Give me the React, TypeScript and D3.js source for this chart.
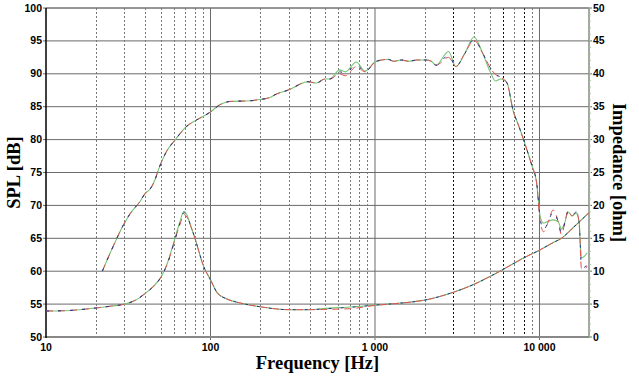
import React from "react";
import * as d3 from "d3";

const W = 639;
const H = 381;
const M = { left: 46, right: 589, top: 8, bottom: 337 };

// SPL data (dB)
const splFreqs = [22, 25, 29.5, 33, 37.3, 40, 43, 46, 48.2, 54, 60.7, 71.5, 82.5, 100, 114, 131, 174, 200, 230, 246, 302, 364, 390, 440, 496, 530, 610, 660, 770, 870, 1000, 1100, 1200, 1300, 1450, 1600, 1800, 2050, 2200, 2350, 2800, 3100, 3500, 4000, 4500, 5000, 5400, 5800, 6350, 6900, 7500, 8000, 9000, 9600, 10100, 10600, 11300, 12100, 13000, 13600, 14300, 14900, 15800, 16700, 17400, 18000, 18800, 19500];
const splBlue = [60, 63.2, 67, 69, 70.6, 71.8, 72.5, 73.9, 75.4, 78.2, 79.9, 82, 83, 84.2, 85.3, 85.8, 85.9, 86.1, 86.4, 86.8, 87.6, 88.6, 88.8, 88.6, 89.2, 89.2, 90.3, 90.1, 91.4, 90.3, 91.8, 92.1, 92.2, 91.9, 92.1, 91.9, 92.1, 92.1, 91.9, 91.3, 92.8, 91.1, 93.0, 95.2, 93.2, 91.0, 89.9, 89.5, 88.6, 84.5, 82, 80, 76, 73.5, 68, 66.3, 67.5, 69.0, 67.5, 65.8, 67.5, 69.0, 68.4, 69.0, 67.5, 60.8, 60.6, 61.2];
const splRed = [60, 63.2, 67, 69, 70.6, 71.8, 72.5, 73.9, 75.4, 78.2, 79.9, 82, 83, 84.2, 85.3, 85.8, 85.9, 86.1, 86.4, 86.8, 87.6, 88.6, 88.8, 88.6, 89.2, 89.2, 90.0, 89.7, 91.1, 90.3, 91.8, 92.1, 92.2, 91.9, 92.1, 91.9, 92.1, 92.1, 91.9, 91.3, 92.5, 91.1, 93.0, 95.1, 93.2, 91.0, 89.9, 89.5, 88.6, 84.5, 82, 80, 76, 73.5, 67.5, 66.0, 67.5, 69.3, 67.5, 65.6, 67.5, 69.2, 68.4, 69.1, 67.5, 60.4, 60.3, 60.8];
const splGreen = [60, 63.2, 67, 69, 70.6, 71.8, 72.5, 73.9, 75.4, 78.2, 79.9, 82, 83, 84.2, 85.3, 85.8, 85.9, 86.1, 86.4, 86.8, 87.6, 88.6, 88.8, 88.6, 89.2, 89.2, 90.6, 90.3, 91.8, 90.4, 91.8, 92.1, 92.2, 91.9, 92.1, 91.9, 92.1, 92.1, 91.9, 91.3, 93.4, 91.1, 93.0, 95.6, 93.2, 90.4, 88.9, 89.2, 88.6, 84.5, 82, 80, 76, 73.5, 68.3, 67.3, 67.6, 67.8, 67.5, 66.4, 67.5, 69.0, 68.4, 68.8, 67.5, 62, 62.3, 62.8];

// Impedance data (ohm)
const impFreqs = [10, 13, 16, 20, 25, 30, 35, 40, 45, 50, 55, 60, 65, 69, 72, 76, 80, 85, 90, 100, 110, 125, 150, 200, 300, 400, 500, 700, 1000, 1500, 2000, 3000, 4000, 5000, 5750, 7000, 8000, 10000, 12000, 13600, 16000, 20000];
const impBlue = [3.95, 4.0, 4.15, 4.4, 4.7, 5.0, 5.6, 6.6, 7.7, 9.1, 11.3, 14.3, 17.2, 18.9, 18.4, 16.8, 15.2, 13.0, 11.0, 8.7, 6.7, 5.8, 5.2, 4.6, 4.15, 4.15, 4.3, 4.5, 4.85, 5.2, 5.6, 6.8, 8.0, 9.2, 10.0, 11.2, 12.0, 13.2, 14.3, 15.0, 16.6, 18.9];
const impRed = [3.95, 4.0, 4.15, 4.4, 4.7, 5.0, 5.6, 6.6, 7.7, 9.1, 11.3, 14.3, 17.0, 18.6, 18.2, 16.8, 15.2, 13.0, 11.0, 8.7, 6.7, 5.8, 5.2, 4.6, 4.15, 4.15, 4.2, 4.3, 4.8, 5.2, 5.6, 6.8, 8.0, 9.2, 10.0, 11.2, 12.0, 13.2, 14.3, 15.0, 16.6, 18.9];
const impGreen = [3.95, 4.0, 4.15, 4.4, 4.7, 5.0, 5.6, 6.6, 7.7, 9.1, 11.4, 14.5, 17.4, 19.1, 18.5, 16.8, 15.2, 13.0, 11.0, 8.7, 6.7, 5.8, 5.2, 4.6, 4.15, 4.15, 4.35, 4.55, 4.85, 5.2, 5.6, 6.8, 8.0, 9.2, 10.0, 11.2, 12.0, 13.2, 14.3, 15.0, 16.6, 18.9];

// Axes
const splTicks = [50, 55, 60, 65, 70, 75, 80, 85, 90, 95, 100];
const impTicks = [0, 5, 10, 15, 20, 25, 30, 35, 40, 45, 50];
const impMinor = d3.range(0, 51, 1);
const xTickValues = [10, 100, 1000, 10000];
const xTickLabels = ["10", "100", "1 000", "10 000"];
const xMinor = [20, 30, 40, 50, 60, 70, 80, 90, 200, 300, 400, 500, 600, 700, 800, 900, 2000, 3000, 4000, 5000, 6000, 7000, 8000, 9000];
const xMinorDark = [3000, 6000, 8000];

// drawing order: green (bottom), red, blue (speckled on top)
const seriesStyles = [
  { color: "#74c474", width: 1.1, dash: "none" },
  { color: "#e05050", width: 1.0, dash: "7,5" },
  { color: "#22308f", width: 1.0, dash: "3,9" },
];

export default function App() {
  const x = d3.scaleLog().domain([10, 20000]).range([M.left, M.right]);
  const yL = d3.scaleLinear().domain([50, 100]).range([M.bottom, M.top]);
  const yR = d3.scaleLinear().domain([0, 50]).range([M.bottom, M.top]);

  const mkLine = (fs: number[], vs: number[], y: any) =>
    d3
      .line<number>()
      .x((_, i) => x(fs[i]))
      .y((v) => y(v))
      .curve(d3.curveMonotoneX)(vs) as string;

  const splSeries = [splGreen, splRed, splBlue];
  const impSeries = [impGreen, impRed, impBlue];
  const tickFont = "'Liberation Sans', Arial, sans-serif";
  const titleFont = "'Liberation Serif', 'Times New Roman', serif";

  return (
    <svg
      width={W}
      height={H}
      style={{ position: "absolute", left: 0, top: 0, background: "#fff" }}
    >
      <rect x={0} y={0} width={W} height={H} fill="#fff" />
      {/* horizontal grid */}
      {splTicks.map((t) => (
        <line
          key={"h" + t}
          x1={M.left - 3}
          x2={M.right + 3}
          y1={yL(t)}
          y2={yL(t)}
          stroke="#6a6a6a"
          strokeWidth={1}
        />
      ))}
      {/* minor vertical grid */}
      {xMinor.map((f) => (
        <line
          key={"m" + f}
          x1={Math.round(x(f)) + 0.5}
          x2={Math.round(x(f)) + 0.5}
          y1={M.top}
          y2={M.bottom}
          stroke={xMinorDark.includes(f) ? "#111" : "#777"}
          strokeWidth={1}
          strokeDasharray="2,2"
        />
      ))}
      {/* major vertical grid */}
      {xTickValues.slice(1).map((f) => (
        <line
          key={"M" + f}
          x1={x(f)}
          x2={x(f)}
          y1={M.top}
          y2={M.bottom + 3}
          stroke="#6a6a6a"
          strokeWidth={1}
        />
      ))}
      {/* frame */}
      <line x1={M.left} x2={M.right} y1={M.top} y2={M.top} stroke="#777" strokeWidth={1} />
      <line x1={M.left} x2={M.right + 1} y1={M.bottom} y2={M.bottom} stroke="#888" strokeWidth={2} />
      <line x1={M.right} x2={M.right} y1={M.top} y2={M.bottom} stroke="#888" strokeWidth={1.5} />
      {impMinor.map((t) => (
        <line
          key={"im" + t}
          x1={M.right}
          x2={M.right + 2}
          y1={yR(t)}
          y2={yR(t)}
          stroke="#9ccf8c"
          strokeWidth={1}
        />
      ))}
      <line x1={M.left} x2={M.left} y1={M.top} y2={M.bottom + 1} stroke="#000" strokeWidth={1.5} />

      {/* curves */}
      {impSeries.map((s, i) => (
        <path
          key={"imp" + i}
          d={mkLine(impFreqs, s, yR)}
          fill="none"
          stroke={seriesStyles[i].color}
          strokeWidth={seriesStyles[i].width}
          strokeDasharray={seriesStyles[i].dash}
        />
      ))}
      {splSeries.map((s, i) => (
        <path
          key={"spl" + i}
          d={mkLine(splFreqs, s, yL)}
          fill="none"
          stroke={seriesStyles[i].color}
          strokeWidth={seriesStyles[i].width}
          strokeDasharray={seriesStyles[i].dash}
        />
      ))}

      {/* left tick labels */}
      {splTicks.map((t) => (
        <text
          key={"lt" + t}
          x={M.left - 4}
          y={yL(t) + 3.5}
          textAnchor="end"
          fontFamily={tickFont}
          fontWeight="bold"
          fontSize={10.5}
          fill="#000"
        >
          {t}
        </text>
      ))}
      {/* right tick labels */}
      {impTicks.map((t) => (
        <text
          key={"rt" + t}
          x={M.right + 4}
          y={yR(t) + 3.5}
          textAnchor="start"
          fontFamily={tickFont}
          fontWeight="bold"
          fontSize={10.5}
          fill="#000"
        >
          {t}
        </text>
      ))}
      {/* x tick labels */}
      {xTickValues.map((f, i) => (
        <text
          key={"xt" + f}
          x={x(f)}
          y={M.bottom + 14}
          textAnchor="middle"
          fontFamily={tickFont}
          fontWeight="bold"
          fontSize={10.5}
          fill="#000"
        >
          {xTickLabels[i]}
        </text>
      ))}

      {/* titles */}
      <text
        x={(M.left + M.right) / 2}
        y={369}
        textAnchor="middle"
        fontFamily={titleFont}
        fontWeight="bold"
        fontSize={18.5}
      >
        Frequency [Hz]
      </text>
      <text
        transform={`translate(20,${(M.top + M.bottom) / 2}) rotate(-90)`}
        textAnchor="middle"
        fontFamily={titleFont}
        fontWeight="bold"
        fontSize={18.5}
      >
        SPL [dB]
      </text>
      <text
        transform={`translate(613,${(M.top + M.bottom) / 2}) rotate(90)`}
        textAnchor="middle"
        fontFamily={titleFont}
        fontWeight="bold"
        fontSize={18.5}
      >
        Impedance [ohm]
      </text>
    </svg>
  );
}
